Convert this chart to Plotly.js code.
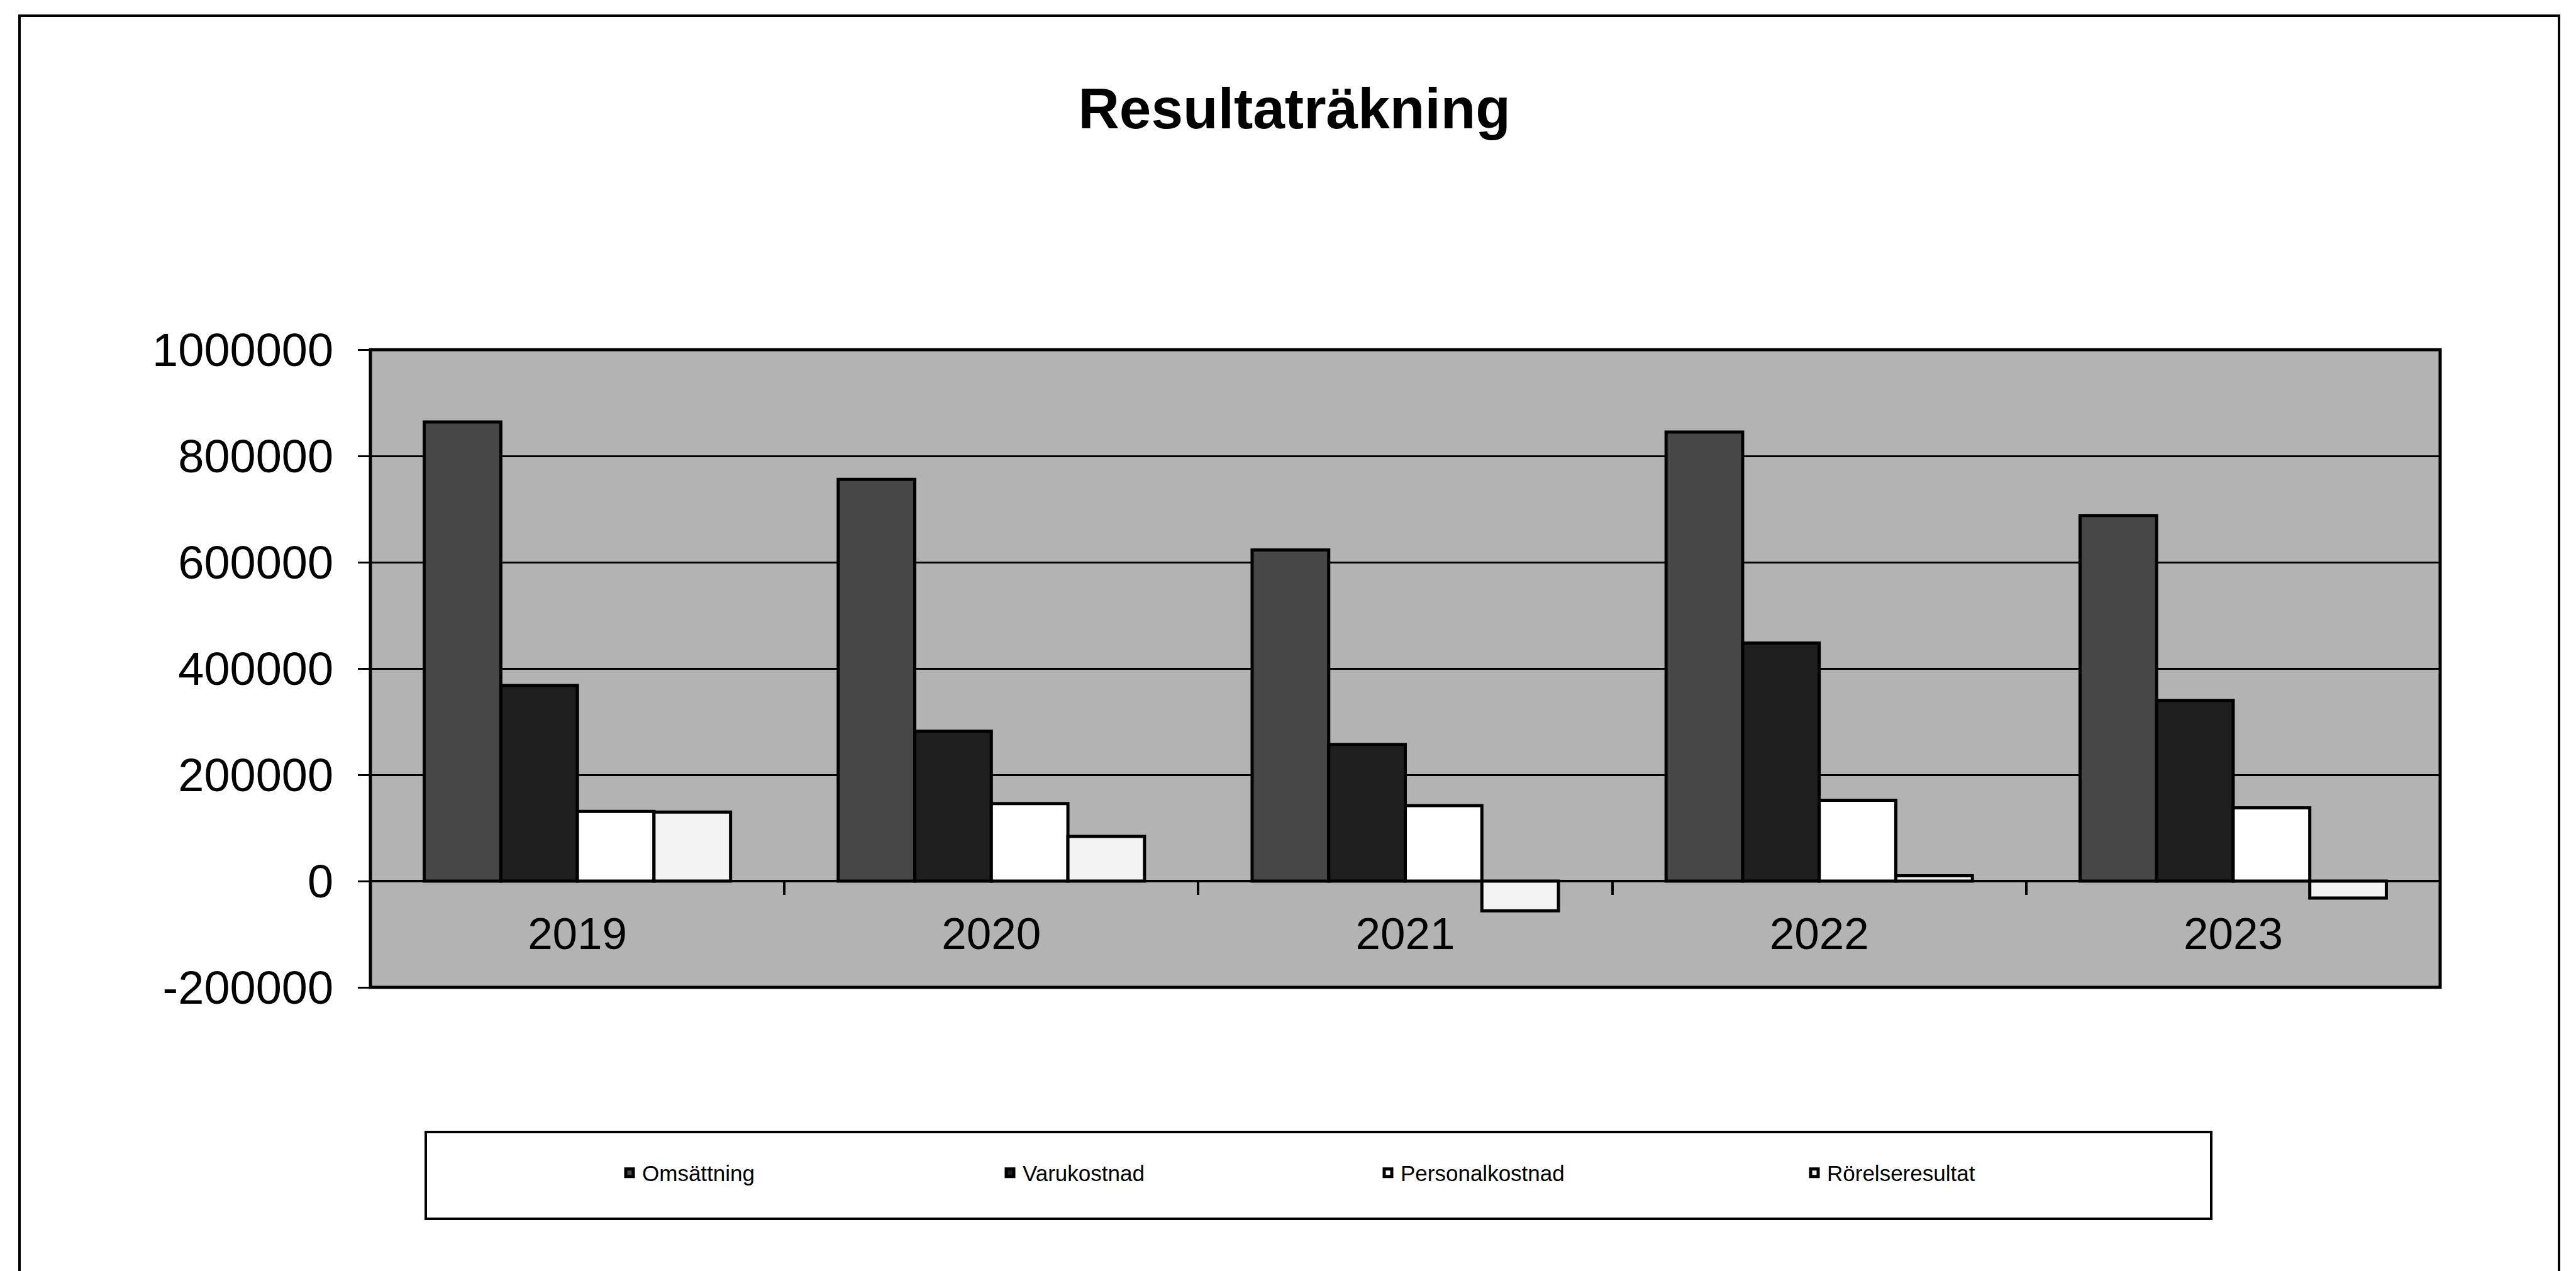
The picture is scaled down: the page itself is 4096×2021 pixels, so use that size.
<!DOCTYPE html>
<html>
<head>
<meta charset="utf-8">
<script src="https://cdn.plot.ly/plotly-3.0.1.min.js"></script>
<style>
  html, body { margin: 0; padding: 0; background: #ffffff; }
  #chart { width: 4096px; height: 2021px; }
</style>
</head>
<body>
<div id="chart"></div>
<script>
// ---- data ----
const years = ['2019', '2020', '2021', '2022', '2023'];
const seriesNames = ['Omsättning', 'Varukostnad', 'Personalkostnad', 'Rörelseresultat'];
const omsattning = [864000, 756000, 623000, 845000, 688000];
const varukostnad = [368000, 282000, 257000, 448000, 340000];
const personalkostnad = [131000, 146000, 142000, 152000, 138000];
const rorelseresultat = [130000, 84000, -56000, 10000, -32000];
const yTickVals = [-200000, 0, 200000, 400000, 600000, 800000, 1000000];
const yTickText = ['-200000', '0', '200000', '400000', '600000', '800000', '1000000'];

// ---- layout geometry (pixels at 4096x2021) ----
const W = 4096, H = 2021;
const L = 589, R = 3880, T = 556, B = 1570;
const px = x => (x - L) / (R - L);
const py = y => (B - y) / (B - T);
const FONT = '"Liberation Sans", Arial, Helvetica, sans-serif';

const fills = ['#474747', '#1e1e1e', '#ffffff', '#f3f3f3'];
const values = [omsattning, varukostnad, personalkostnad, rorelseresultat];
const legendIds = ['legend', 'legend2', 'legend3', 'legend4'];

const traces = values.map((v, i) => ({
  type: 'bar',
  name: seriesNames[i],
  x: years,
  y: v,
  marker: { color: fills[i], line: { color: '#000000', width: 5 } },
  legend: legendIds[i],
  hoverinfo: 'skip'
}));

const legendTextStart = [1021, 1626, 2227, 2905];
const legendY = 1865;
const legendBase = {
  orientation: 'h',
  xref: 'paper', yref: 'paper',
  xanchor: 'left', yanchor: 'middle',
  bgcolor: 'rgba(0,0,0,0)',
  borderwidth: 0,
  itemwidth: 30,
  font: { family: FONT, size: 35, color: '#000000' }
};

const layout = {
  width: W, height: H,
  margin: { l: L, r: W - R, t: T, b: H - B, pad: 0 },
  paper_bgcolor: '#ffffff',
  plot_bgcolor: '#b3b3b3',
  barmode: 'group',
  bargap: 0.26,
  bargroupgap: 0,
  showlegend: true,
  title: {
    text: 'Resultaträkning',
    font: { family: FONT, size: 91, color: '#000000', weight: 'bold' },
    xref: 'container', yref: 'container',
    x: 2058 / W, y: 1 - 172 / H,
    xanchor: 'center', yanchor: 'middle'
  },
  xaxis: {
    type: 'category',
    anchor: 'free',
    position: 1 / 6,
    showgrid: false,
    showline: false,
    zeroline: false,
    ticks: 'outside',
    tickson: 'boundaries',
    ticklen: 21,
    tickwidth: 4,
    tickcolor: '#000000',
    ticklabelstandoff: 36,
    tickfont: { family: FONT, size: 71, color: '#000000' }
  },
  yaxis: {
    range: [-200000, 1000000],
    tickmode: 'array',
    tickvals: yTickVals,
    ticktext: yTickText,
    showgrid: true,
    gridcolor: '#000000',
    gridwidth: 3,
    zeroline: true,
    zerolinecolor: '#000000',
    zerolinewidth: 4,
    showline: false,
    ticks: 'outside',
    ticklen: 19,
    tickwidth: 3,
    tickcolor: '#000000',
    ticklabelstandoff: 24,
    tickfont: { family: FONT, size: 74, color: '#000000' }
  },
  shapes: [
    // plot area frame
    { type: 'rect', xref: 'paper', yref: 'paper', x0: 0, x1: 1, y0: 0, y1: 1,
      line: { color: '#000000', width: 5 }, fillcolor: 'rgba(0,0,0,0)' },
    // legend box
    { type: 'rect', xref: 'paper', yref: 'paper',
      x0: px(677), x1: px(3516), y0: py(1800), y1: py(1938),
      line: { color: '#000000', width: 4 }, fillcolor: 'rgba(0,0,0,0)' },
    // outer figure frame (left, top, right)
    { type: 'path', xref: 'paper', yref: 'paper',
      path: 'M ' + px(31) + ' ' + py(2030) + ' L ' + px(31) + ' ' + py(25) +
            ' L ' + px(4069) + ' ' + py(25) + ' L ' + px(4069) + ' ' + py(2030),
      line: { color: '#000000', width: 4 } }
  ]
};

legendIds.forEach((id, i) => {
  layout[id] = Object.assign({}, legendBase, {
    x: px(legendTextStart[i] - 40),
    y: py(legendY)
  });
});

Plotly.newPlot('chart', traces, layout, { displayModeBar: false, staticPlot: true });
</script>
</body>
</html>
